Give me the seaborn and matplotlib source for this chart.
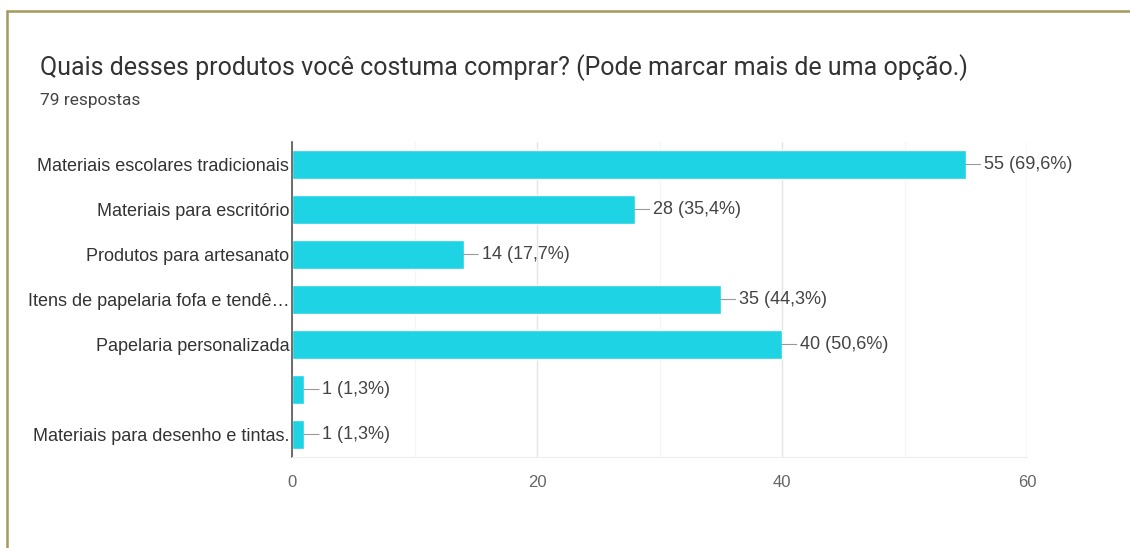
import matplotlib
matplotlib.use("Agg")
import matplotlib.pyplot as plt
import seaborn as sns
from matplotlib.lines import Line2D

# Data
categories = [
    "Materiais escolares tradicionais",
    "Materiais para escritório",
    "Produtos para artesanato",
    "Itens de papelaria fofa e tendê…",
    "Papelaria personalizada",
    "",
    "Materiais para desenho e tintas.",
]
counts = [55, 28, 14, 35, 40, 1, 1]
percents = ["69,6", "35,4", "17,7", "44,3", "50,6", "1,3", "1,3"]
x_ticks = [0, 20, 40, 60]
title = "Quais desses produtos você costuma comprar? (Pode marcar mais de uma opção.)"
subtitle = "79 respostas"

sns.set_style("white")
plt.rcParams["font.family"] = ["Liberation Sans", "DejaVu Sans"]

fig = plt.figure(figsize=(11.3, 5.48), dpi=100)
ax = fig.add_axes([292 / 1130, 1 - 457 / 548, 735 / 1130, 315 / 548])

sns.barplot(x=counts, y=categories, orient="h", color="#1ED3E4",
            saturation=1, width=0.63, ax=ax)

ax.set_xlim(0, 60)
ax.set_xticks(x_ticks)
ax.set_xticks([10, 30, 50], minor=True)
ax.grid(axis="x", which="major", color="#e4e4e4", lw=1)
ax.grid(axis="x", which="minor", color="#f5f5f5", lw=1)
ax.set_axisbelow(True)
for s in ["top", "right"]:
    ax.spines[s].set_visible(False)
ax.spines["bottom"].set_color("#eeeeee")
ax.spines["left"].set_color("#555555")
ax.spines["left"].set_linewidth(1.2)
ax.tick_params(axis="y", length=0, labelsize=13, labelcolor="#333333", pad=2)
ax.tick_params(axis="x", which="both", length=0, labelsize=12, labelcolor="#666666", pad=13)
ax.set_xlabel("")
ax.set_ylabel("")

for i, (c, p) in enumerate(zip(counts, percents)):
    ax.annotate(f"{c} ({p}%)", xy=(c, i), xytext=(13, 0), textcoords="offset points",
                ha="left", va="center", fontsize=13, color="#444444",
                arrowprops=dict(arrowstyle="-", color="#999999", lw=0.8,
                                shrinkA=0, shrinkB=0))

fig.text(40 / 1130, 1 - 68 / 548, title, fontsize=18, color="#333333",
         family=["Roboto", "DejaVu Sans"], va="center")
fig.text(40 / 1130, 1 - 100 / 548, subtitle, fontsize=12.5, color="#444444",
         family=["Roboto", "DejaVu Sans"], va="center")

# olive frame of the screenshot (top and left edges only)
fig.add_artist(Line2D([6.5 / 1130, 1], [1 - 10.5 / 548, 1 - 10.5 / 548],
                      transform=fig.transFigure, color="#A39B5C", lw=1.8))
fig.add_artist(Line2D([6.5 / 1130, 6.5 / 1130], [0, 1 - 10.5 / 548],
                      transform=fig.transFigure, color="#A39B5C", lw=1.8))

fig.savefig("out.png", dpi=100, facecolor="white")
